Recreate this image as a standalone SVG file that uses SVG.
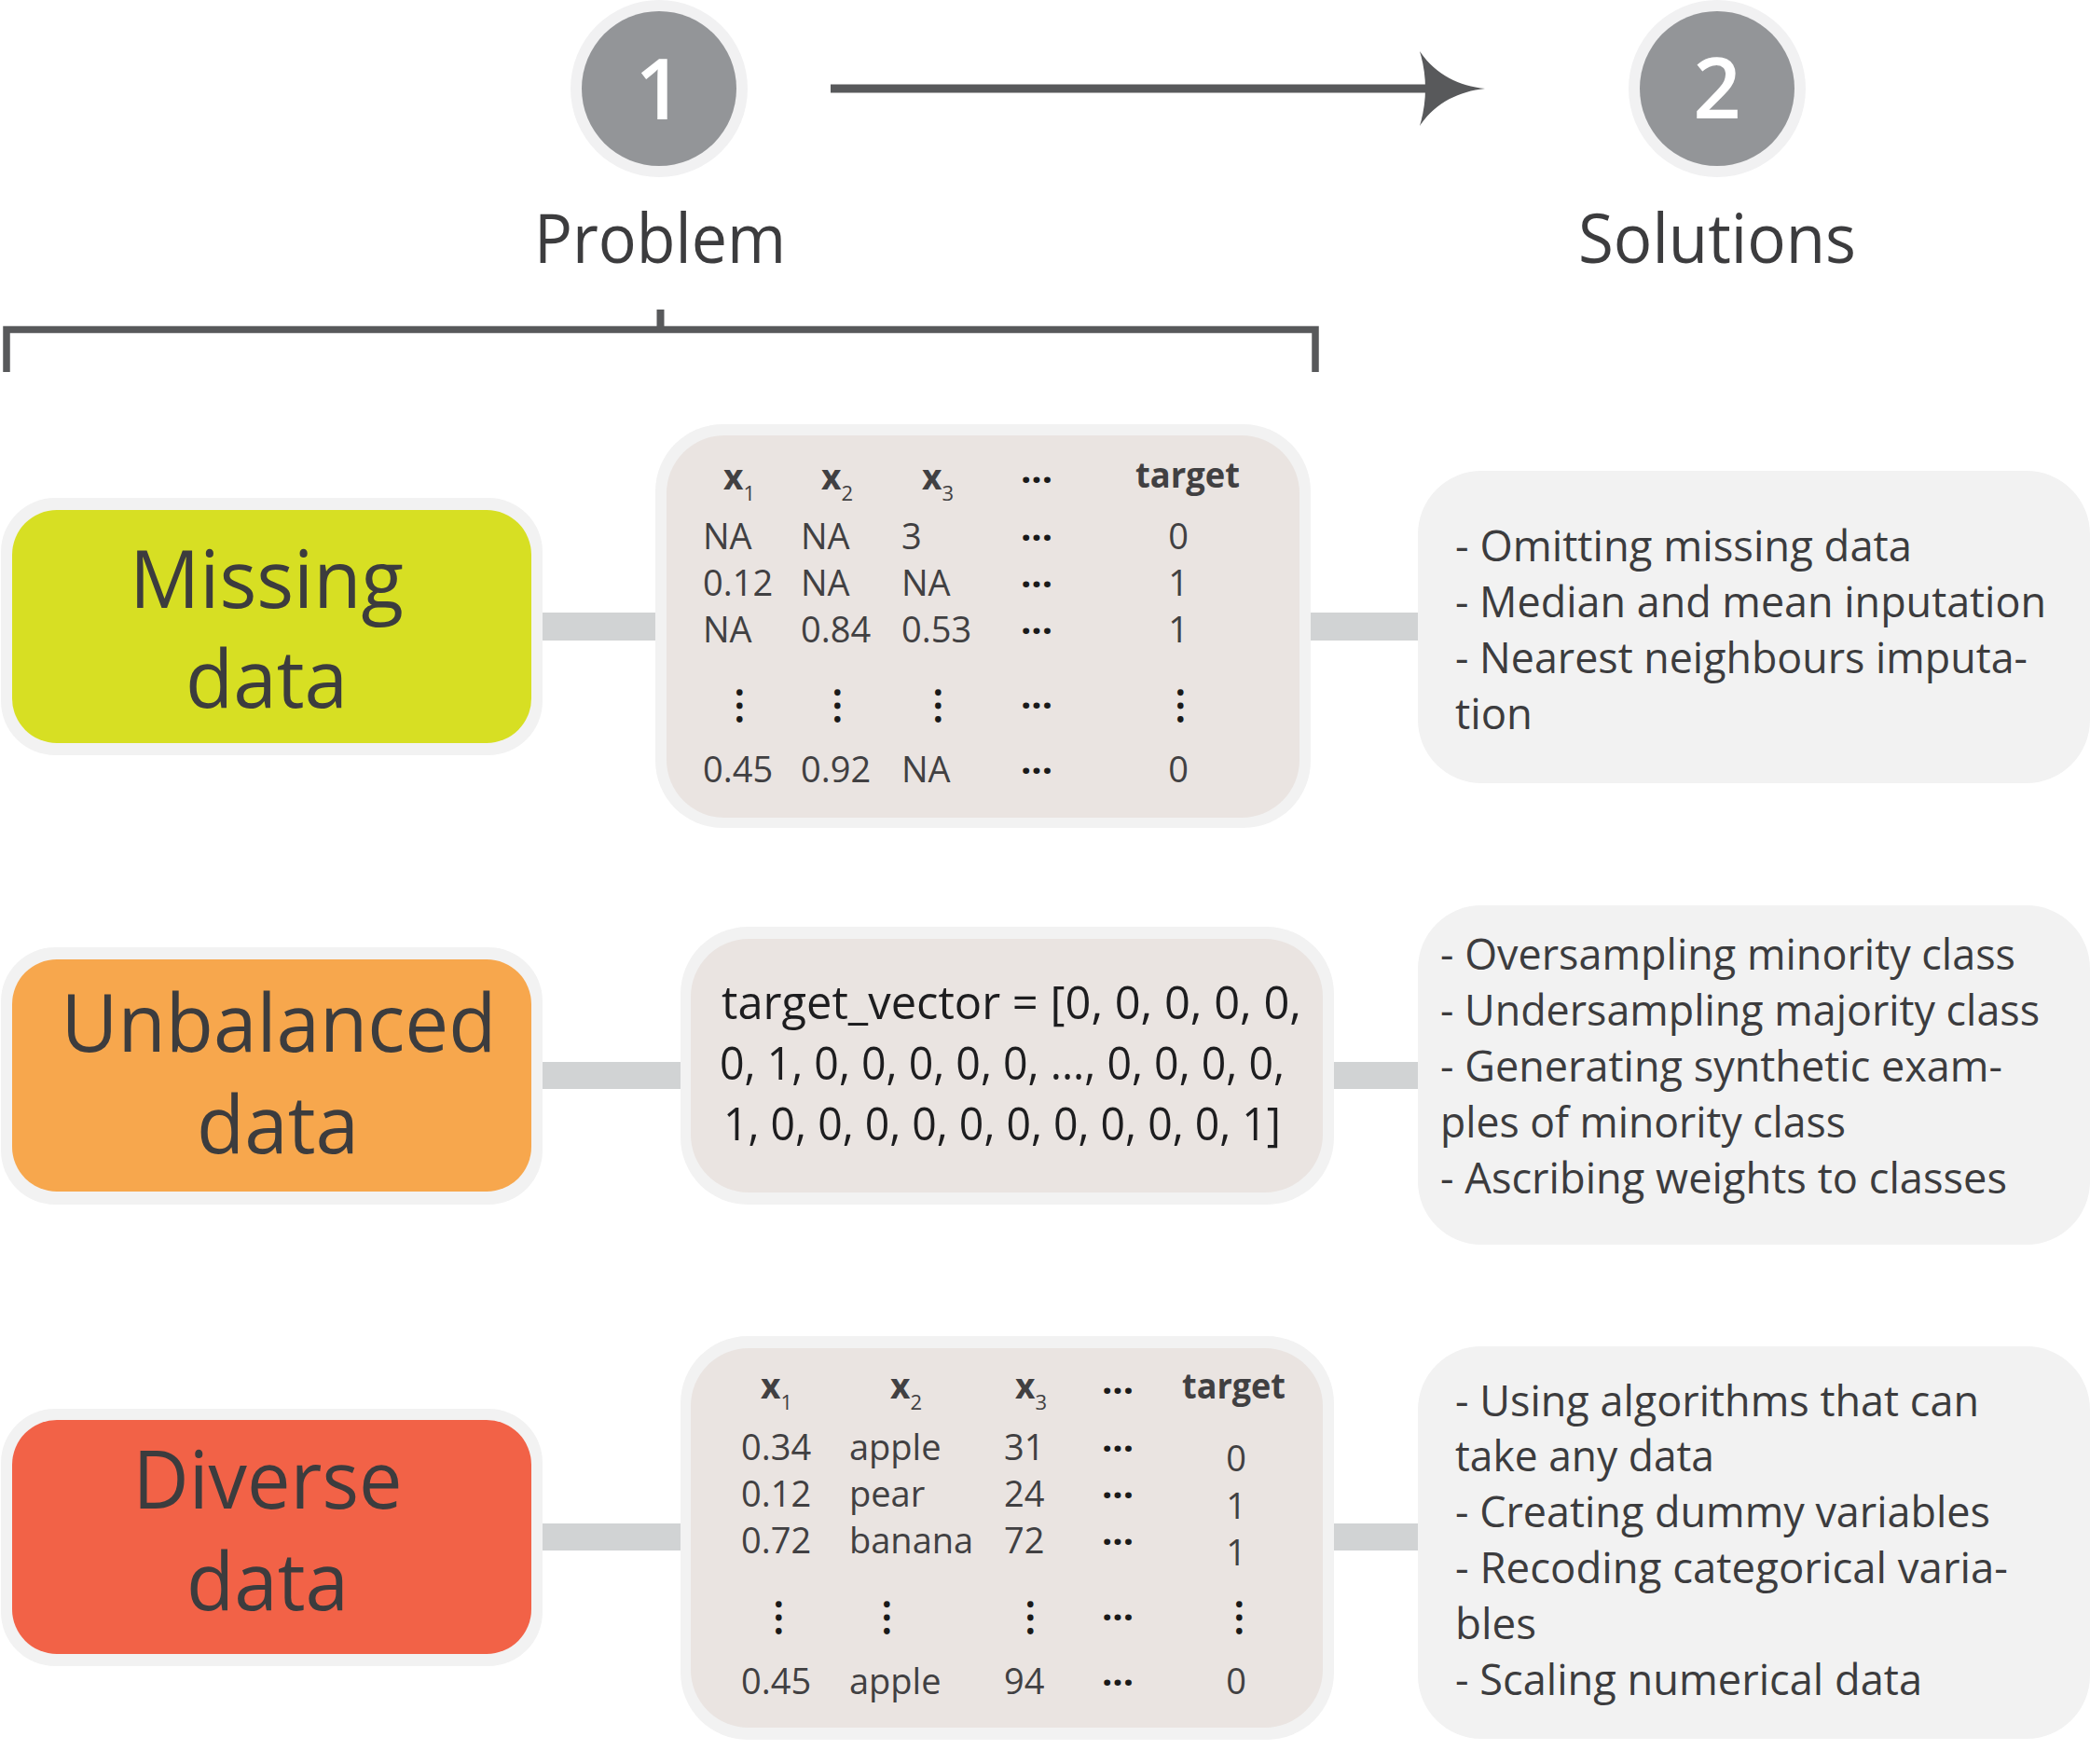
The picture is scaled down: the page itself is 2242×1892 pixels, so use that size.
<svg xmlns="http://www.w3.org/2000/svg" width="2242" height="1892" viewBox="0 0 2242 1892">
<style>
text{font-family:"Open Sans","Noto Sans","DejaVu Sans",sans-serif;fill:#3c3c3e}
.num{fill:#ffffff;font-weight:600;font-size:90px;text-anchor:middle}
.head{font-size:73px;text-anchor:middle}
.big{font-size:86px;text-anchor:middle}
.cell{font-size:38px;fill:#414042}
.hd{font-size:37px;font-weight:700;fill:#414042}
.sub{font-size:22px;font-weight:400}
.ell{font-size:40px;font-weight:700;fill:#1a1a1a;text-anchor:middle}
.vd{font-size:40px;font-weight:700;fill:#1a1a1a;text-anchor:middle;letter-spacing:3px}
.vec{font-size:50px;fill:#1d1d1f}
.sol{font-size:45px;fill:#3c3c3e}
.ring{fill:#f1f1f2}
.disc{fill:#939598}
.halo{fill:#f2f2f2}
.tbl{fill:#eae4e1}
.solbox{fill:#f2f2f2}
.bar{fill:#d1d3d4}
.dark{stroke:#58595b;fill:none}
</style>

<g id="connectors">
  <line class="dark" x1="891" y1="95" x2="1545" y2="95" stroke-width="9"/>
  <path d="M1523,55 C1540,80 1565,92 1593,95 C1565,98 1540,110 1523,135 Q1535,95 1523,55 Z" fill="#58595b"/>
  <path class="dark" d="M7,399 V353.5 H1411 V399" stroke-width="7.5"/>
  <line class="dark" x1="708.5" y1="332" x2="708.5" y2="353" stroke-width="8"/>
  <rect class="bar" x="578" y="657" width="130" height="30"/>
  <rect class="bar" x="1400" y="657" width="125" height="30"/>
  <rect class="bar" x="578" y="1139" width="156" height="29"/>
  <rect class="bar" x="1426" y="1139" width="99" height="29"/>
  <rect class="bar" x="578" y="1634" width="156" height="29"/>
  <rect class="bar" x="1426" y="1634" width="99" height="29"/>
</g>

<g id="step1">
  <circle class="ring" cx="707" cy="95" r="95"/>
  <circle class="disc" cx="707" cy="95" r="83"/>
  <text class="num" x="707" y="128">1</text>
  <text class="head" x="708" y="282" textLength="270" lengthAdjust="spacingAndGlyphs">Problem</text>
</g>

<g id="step2">
  <circle class="ring" cx="1842" cy="95" r="95"/>
  <circle class="disc" cx="1842" cy="95" r="83"/>
  <text class="num" x="1842" y="127">2</text>
  <text class="head" x="1842" y="282" textLength="298" lengthAdjust="spacingAndGlyphs">Solutions</text>
</g>

<g id="missing-data">
  <rect class="halo" x="1" y="534" width="581" height="276" rx="58"/>
  <rect x="13" y="547" width="557" height="250" rx="48" fill="#d7df23"/>
  <text class="big" x="286" y="652" textLength="294" lengthAdjust="spacingAndGlyphs">Missing</text>
  <text class="big" x="286" y="759" textLength="174" lengthAdjust="spacingAndGlyphs">data</text>
</g>

<g id="missing-table">
  <rect class="halo" x="703" y="455" width="703" height="433" rx="72"/>
  <rect class="tbl" x="715" y="467" width="679" height="410" rx="62"/>
  <text class="hd" x="776" y="525">x<tspan class="sub" dy="12">1</tspan></text>
  <text class="hd" x="881" y="525">x<tspan class="sub" dy="12">2</tspan></text>
  <text class="hd" x="989" y="525">x<tspan class="sub" dy="12">3</tspan></text>
  <text class="ell" x="1112" y="518">...</text>
  <text class="hd" x="1218" y="523" textLength="112" lengthAdjust="spacingAndGlyphs">target</text>
  <text class="cell" x="754" y="589">NA</text>
  <text class="cell" x="859" y="589">NA</text>
  <text class="cell" x="967" y="589">3</text>
  <text class="ell" x="1112" y="580">...</text>
  <text class="cell" x="1264" y="589" text-anchor="middle">0</text>
  <text class="cell" x="754" y="639">0.12</text>
  <text class="cell" x="859" y="639">NA</text>
  <text class="cell" x="967" y="639">NA</text>
  <text class="ell" x="1112" y="630">...</text>
  <text class="cell" x="1264" y="639" text-anchor="middle">1</text>
  <text class="cell" x="754" y="689">NA</text>
  <text class="cell" x="859" y="689">0.84</text>
  <text class="cell" x="967" y="689">0.53</text>
  <text class="ell" x="1112" y="680">...</text>
  <text class="cell" x="1264" y="689" text-anchor="middle">1</text>
  <text class="vd" x="789.5" y="758.5" transform="rotate(90 789.5 758.5)">...</text>
  <text class="vd" x="894.5" y="758.5" transform="rotate(90 894.5 758.5)">...</text>
  <text class="vd" x="1002.5" y="758.5" transform="rotate(90 1002.5 758.5)">...</text>
  <text class="ell" x="1112" y="760">...</text>
  <text class="vd" x="1262.5" y="758.5" transform="rotate(90 1262.5 758.5)">...</text>
  <text class="cell" x="754" y="839">0.45</text>
  <text class="cell" x="859" y="839">0.92</text>
  <text class="cell" x="967" y="839">NA</text>
  <text class="ell" x="1112" y="830">...</text>
  <text class="cell" x="1264" y="839" text-anchor="middle">0</text>
</g>

<g id="missing-solutions">
  <rect class="solbox" x="1521" y="505" width="721" height="335" rx="68"/>
  <text class="sol" x="1561" y="602" textLength="490" lengthAdjust="spacingAndGlyphs">- Omitting missing data</text>
  <text class="sol" x="1561" y="662" textLength="634" lengthAdjust="spacingAndGlyphs">- Median and mean inputation</text>
  <text class="sol" x="1561" y="722" textLength="614" lengthAdjust="spacingAndGlyphs">- Nearest neighbours imputa-</text>
  <text class="sol" x="1561" y="782" textLength="83" lengthAdjust="spacingAndGlyphs">tion</text>
</g>

<g id="unbalanced-data">
  <rect class="halo" x="1" y="1016" width="581" height="276" rx="58"/>
  <rect x="13" y="1029" width="557" height="249" rx="48" fill="#f7a74d"/>
  <text class="big" x="299" y="1128" textLength="467" lengthAdjust="spacingAndGlyphs">Unbalanced</text>
  <text class="big" x="298" y="1237" textLength="174" lengthAdjust="spacingAndGlyphs">data</text>
</g>

<g id="unbalanced-vector">
  <rect class="halo" x="730" y="994" width="701" height="298" rx="72"/>
  <rect class="tbl" x="741" y="1007" width="678" height="272" rx="62"/>
  <text class="vec" x="774" y="1093" textLength="622" lengthAdjust="spacingAndGlyphs">target_vector = [0, 0, 0, 0, 0,</text>
  <text class="vec" x="772" y="1158" textLength="606" lengthAdjust="spacingAndGlyphs">0, 1, 0, 0, 0, 0, 0, ..., 0, 0, 0, 0,</text>
  <text class="vec" x="776" y="1223" textLength="598" lengthAdjust="spacingAndGlyphs">1, 0, 0, 0, 0, 0, 0, 0, 0, 0, 0, 1]</text>
</g>

<g id="unbalanced-solutions">
  <rect class="solbox" x="1521" y="971" width="721" height="364" rx="68"/>
  <text class="sol" x="1545" y="1040" textLength="617" lengthAdjust="spacingAndGlyphs">- Oversampling minority class</text>
  <text class="sol" x="1545" y="1100" textLength="643" lengthAdjust="spacingAndGlyphs">- Undersampling majority class</text>
  <text class="sol" x="1545" y="1160" textLength="603" lengthAdjust="spacingAndGlyphs">- Generating synthetic exam-</text>
  <text class="sol" x="1545" y="1220" textLength="435" lengthAdjust="spacingAndGlyphs">ples of minority class</text>
  <text class="sol" x="1545" y="1280" textLength="608" lengthAdjust="spacingAndGlyphs">- Ascribing weights to classes</text>
</g>

<g id="diverse-data">
  <rect class="halo" x="1" y="1511" width="581" height="276" rx="58"/>
  <rect x="13" y="1523" width="557" height="251" rx="48" fill="#f26247"/>
  <text class="big" x="287" y="1618" textLength="289" lengthAdjust="spacingAndGlyphs">Diverse</text>
  <text class="big" x="287" y="1727" textLength="174" lengthAdjust="spacingAndGlyphs">data</text>
</g>

<g id="diverse-table">
  <rect class="halo" x="730" y="1433" width="701" height="433" rx="72"/>
  <rect class="tbl" x="741" y="1446" width="678" height="407" rx="62"/>
  <text class="hd" x="816" y="1500">x<tspan class="sub" dy="12">1</tspan></text>
  <text class="hd" x="955" y="1500">x<tspan class="sub" dy="12">2</tspan></text>
  <text class="hd" x="1089" y="1500">x<tspan class="sub" dy="12">3</tspan></text>
  <text class="ell" x="1199" y="1495">...</text>
  <text class="hd" x="1268" y="1500" textLength="111" lengthAdjust="spacingAndGlyphs">target</text>
  <text class="cell" x="795" y="1566">0.34</text>
  <text class="cell" x="911" y="1566">apple</text>
  <text class="cell" x="1077" y="1566">31</text>
  <text class="ell" x="1199" y="1557">...</text>
  <text class="cell" x="1326" y="1578" text-anchor="middle">0</text>
  <text class="cell" x="795" y="1616">0.12</text>
  <text class="cell" x="911" y="1616">pear</text>
  <text class="cell" x="1077" y="1616">24</text>
  <text class="ell" x="1199" y="1607">...</text>
  <text class="cell" x="1326" y="1629" text-anchor="middle">1</text>
  <text class="cell" x="795" y="1666">0.72</text>
  <text class="cell" x="911" y="1666">banana</text>
  <text class="cell" x="1077" y="1666">72</text>
  <text class="ell" x="1199" y="1657">...</text>
  <text class="cell" x="1326" y="1679" text-anchor="middle">1</text>
  <text class="vd" x="831.5" y="1736.5" transform="rotate(90 831.5 1736.5)">...</text>
  <text class="vd" x="947.5" y="1736.5" transform="rotate(90 947.5 1736.5)">...</text>
  <text class="vd" x="1101.5" y="1736.5" transform="rotate(90 1101.5 1736.5)">...</text>
  <text class="ell" x="1199" y="1738">...</text>
  <text class="vd" x="1325.5" y="1736.5" transform="rotate(90 1325.5 1736.5)">...</text>
  <text class="cell" x="795" y="1817">0.45</text>
  <text class="cell" x="911" y="1817">apple</text>
  <text class="cell" x="1077" y="1817">94</text>
  <text class="ell" x="1199" y="1808">...</text>
  <text class="cell" x="1326" y="1817" text-anchor="middle">0</text>
</g>

<g id="diverse-solutions">
  <rect class="solbox" x="1521" y="1444" width="721" height="421" rx="68"/>
  <text class="sol" x="1561" y="1519" textLength="562" lengthAdjust="spacingAndGlyphs">- Using algorithms that can</text>
  <text class="sol" x="1561" y="1578" textLength="278" lengthAdjust="spacingAndGlyphs">take any data</text>
  <text class="sol" x="1561" y="1638" textLength="574" lengthAdjust="spacingAndGlyphs">- Creating dummy variables</text>
  <text class="sol" x="1561" y="1698" textLength="593" lengthAdjust="spacingAndGlyphs">- Recoding categorical varia-</text>
  <text class="sol" x="1561" y="1758" textLength="87" lengthAdjust="spacingAndGlyphs">bles</text>
  <text class="sol" x="1561" y="1818" textLength="501" lengthAdjust="spacingAndGlyphs">- Scaling numerical data</text>
</g>
</svg>
